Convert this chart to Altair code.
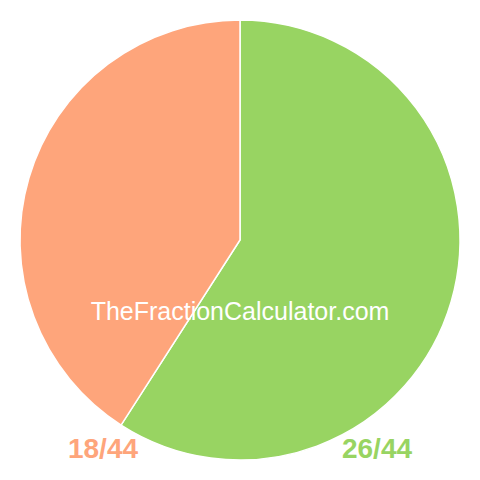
import altair as alt
import pandas as pd

labels = ["26/44", "18/44"]
values = [26, 18]
colors = ["#98D462", "#FEA57B"]
label_x = [377, 103]

df = pd.DataFrame({"label": labels, "value": values, "order": [0, 1], "lx": label_x})

base = alt.Chart(df)

pie = base.mark_arc(outerRadius=220, stroke="white", strokeWidth=1.5).encode(
    theta=alt.Theta("value:Q", stack=True),
    color=alt.Color("label:N", scale=alt.Scale(domain=labels, range=colors), legend=None),
    order=alt.Order("order:Q"),
    x=alt.value(232),
    y=alt.value(232),
)

lab = base.mark_text(font="Liberation Sans", fontSize=28, fontWeight="bold", baseline="middle", align="center").encode(
    text="label:N",
    x=alt.X("lx:Q", scale=alt.Scale(domain=[8, 472]), axis=None),
    y=alt.value(442),
    color=alt.Color("label:N", scale=alt.Scale(domain=labels, range=colors), legend=None),
)

wm = alt.Chart(pd.DataFrame({"t": ["TheFractionCalculator.com"]})).mark_text(
    font="Liberation Sans", fontSize=25, color="white", baseline="middle", align="center"
).encode(text="t:N", x=alt.value(232), y=alt.value(304))

chart = alt.layer(pie, lab, wm).properties(
    width=464, height=464, autosize=alt.AutoSizeParams(type="none"), padding=0
).configure_view(stroke=None)

chart.save("out.html", embed_options={"renderer": "svg", "actions": False})
